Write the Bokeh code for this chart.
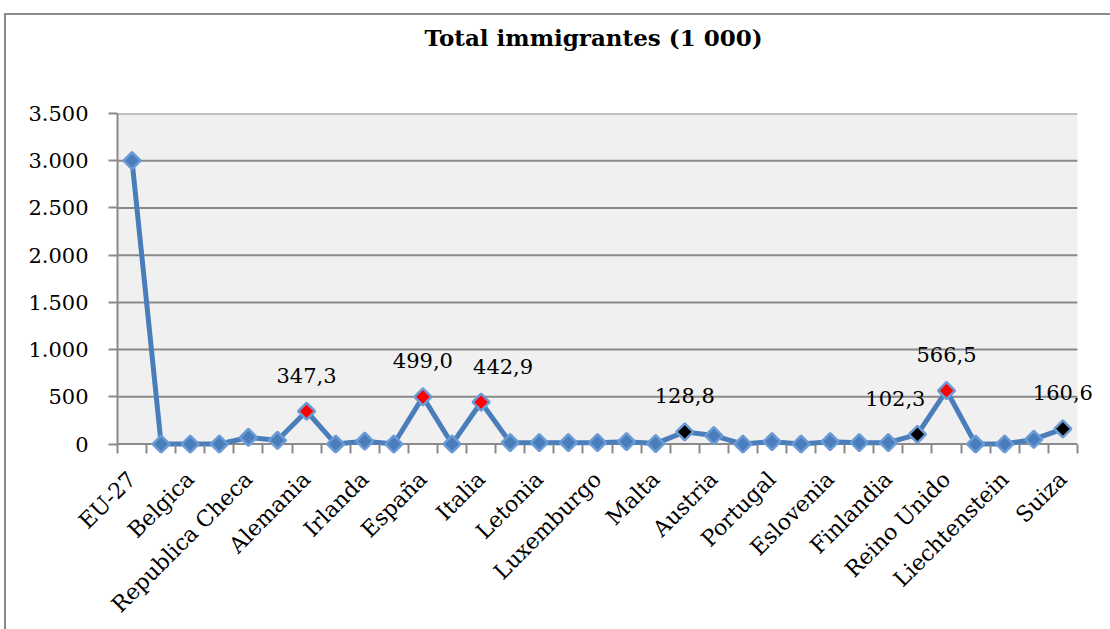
import math

from bokeh.core.properties import value
from bokeh.embed import file_html
from bokeh.models import BoxAnnotation, ColumnDataSource, FixedTicker, LabelSet, Range1d, Title
from bokeh.plotting import figure
from bokeh.resources import INLINE

# Immigrants per country (thousands)
categories = [
    "EU-27", "EA-16", "Belgica", "Bulgaria", "Republica Checa", "Dinamarca",
    "Alemania", "Estonia", "Irlanda", "Grecia", "España", "Francia", "Italia",
    "Chipre", "Letonia", "Lituania", "Luxemburgo", "Hungria", "Malta",
    "Paises Bajos", "Austria", "Polonia", "Portugal", "Rumania", "Eslovenia",
    "Eslovaquia", "Finlandia", "Suecia", "Reino Unido", "Islandia",
    "Liechtenstein", "Noruega", "Suiza",
]
immigrants = [
    3000, 0, 0, 0, 70, 40,
    347.3, 0, 30, 0, 499.0, 0, 442.9,
    15, 15, 15, 15, 25, 5,
    128.8, 90, 0, 25, 0, 25,
    15, 15, 102.3, 566.5, 0,
    0, 50, 160.6,
]
red_points = ["Alemania", "España", "Italia", "Reino Unido"]
black_points = ["Paises Bajos", "Suecia", "Suiza"]
y_ticks = [0, 500, 1000, 1500, 2000, 2500, 3000, 3500]

# horizontal nudges (px) for a couple of value labels
label_nudge = {"Italia": 22, "Suecia": -22}

GRID = "#8a8a8a"
BLUE = "#4a7ebb"
EDGE = "#6b9bd6"
SERIF = "DejaVu Serif"

n = len(categories)
xs = list(range(n))
x_lo, x_hi = -0.5, n - 0.5
y_top = y_ticks[-1]

fills = ["red" if c in red_points else "black" if c in black_points else BLUE for c in categories]
src = ColumnDataSource(dict(x=xs, y=immigrants, fill=fills))

lab_idx = sorted(categories.index(c) for c in red_points + black_points)
lab_src = ColumnDataSource(dict(
    x=lab_idx,
    y=[immigrants[i] for i in lab_idx],
    txt=[f"{immigrants[i]:.1f}".replace(".", ",") for i in lab_idx],
    dx=[label_nudge.get(categories[i], 0) for i in lab_idx],
))

# the frame runs one slot past the last category so the last value label fits
p = figure(
    frame_width=989, frame_height=340,
    min_border_left=111, min_border_right=4, min_border_top=97, min_border_bottom=177,
    x_range=Range1d(x_lo, x_hi + 1),
    y_range=Range1d(-100, y_top),
    output_backend="svg", toolbar_location=None,
    title=None,
)
p.styles = {
    "margin-left": "4px", "margin-top": "13px",
    "border-left": f"2px solid {GRID}", "border-top": f"2px solid {GRID}",
}

# empty band between the heading and the plot area, then the heading itself
p.add_layout(Title(text=" ", text_font_size="10px", standoff=40), "above")
p.add_layout(Title(
    text="Total immigrantes (1 000)", align="left", offset=307,
    vertical_align="top", standoff=16,
    text_font=SERIF, text_font_size="23px", text_font_style="bold", text_color="black",
), "above")

p.background_fill_color = "white"
p.border_fill_color = "white"
p.outline_line_color = None
p.add_layout(BoxAnnotation(left=x_lo, right=x_hi, bottom=0, top=y_top,
                           fill_color="#f0f0f0", fill_alpha=1,
                           line_color=None, level="image"))

# horizontal grid lines across the category span
p.segment(x0=x_lo, x1=x_hi, y0=y_ticks, y1=y_ticks, line_color=GRID, line_width=2)
p.xgrid.visible = False
p.ygrid.visible = False

# y axis
p.yaxis.ticker = FixedTicker(ticks=y_ticks)
p.yaxis.bounds = (0, y_top)
p.yaxis.major_label_overrides = {t: f"{t:,}".replace(",", ".") for t in y_ticks}
p.yaxis.major_label_text_font = SERIF
p.yaxis.major_label_text_font_size = "21px"
p.yaxis.major_label_text_color = "black"
p.yaxis.major_label_standoff = 20
p.yaxis.axis_line_color = GRID
p.yaxis.axis_line_width = 2
p.yaxis.major_tick_line_color = GRID
p.yaxis.major_tick_line_width = 2
p.yaxis.major_tick_out = 9
p.yaxis.major_tick_in = 0
p.yaxis.minor_tick_out = 0
p.yaxis.minor_tick_in = 0

# x axis: a boundary tick for every category, a label for every other one
p.xaxis.ticker = FixedTicker(
    ticks=xs[::2],
    minor_ticks=[i - 0.5 for i in range(n + 1)],
)
p.xaxis.major_label_overrides = {i: categories[i] for i in xs[::2]}
p.xaxis.major_label_orientation = math.pi / 4
p.xaxis.major_label_text_font = SERIF
p.xaxis.major_label_text_font_size = "22px"
p.xaxis.major_label_text_color = "black"
p.xaxis.major_label_standoff = 22
p.xaxis.axis_line_color = None
p.xaxis.major_tick_out = 0
p.xaxis.major_tick_in = 0
p.xaxis.minor_tick_out = 0
p.xaxis.minor_tick_in = 9
p.xaxis.minor_tick_line_color = GRID
p.xaxis.minor_tick_line_width = 2

# series
p.line("x", "y", source=src, line_color=BLUE, line_width=5, line_join="round")
p.scatter("x", "y", source=src, marker="square", angle=math.pi / 4, size=12,
          fill_color="fill", line_color=EDGE, line_width=2.5)

p.add_layout(LabelSet(
    x="x", y="y", text="txt", source=lab_src, x_offset="dx", y_offset=36,
    text_align="center", text_baseline="middle",
    text_font=value(SERIF), text_font_size="21px", text_color="black",
))

open("out.html", "w").write(file_html(p, INLINE))
